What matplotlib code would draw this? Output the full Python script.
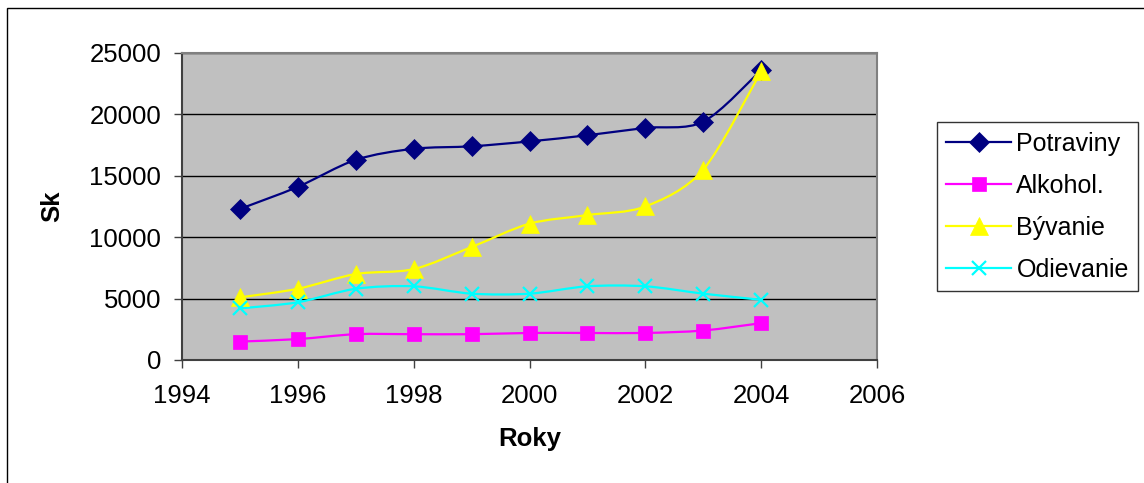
import matplotlib
matplotlib.use("Agg")
import matplotlib.pyplot as plt
from matplotlib.path import Path
from matplotlib.patches import PathPatch, Rectangle
from matplotlib.lines import Line2D
import numpy as np

plt.rcParams['font.family'] = ['Liberation Sans', 'DejaVu Sans']

roky = [1995, 1996, 1997, 1998, 1999, 2000, 2001, 2002, 2003, 2004]
potraviny = [12300, 14100, 16300, 17200, 17400, 17800, 18300, 18900, 19400, 23600]
alkohol = [1500, 1700, 2100, 2100, 2100, 2200, 2200, 2200, 2400, 3000]
byvanie = [5100, 5800, 7000, 7400, 9200, 11100, 11800, 12500, 15500, 23500]
odievanie = [4200, 4700, 5800, 6000, 5400, 5400, 6000, 6000, 5400, 4900]

nazvy = ['Potraviny', 'Alkohol.', 'Bývanie', 'Odievanie']
farby = ['#000080', '#FF00FF', '#FFFF00', '#00FFFF']
znacky = ['D', 's', '^', 'x']
velkosti = [10, 10.5, 12.5, 10]

FS = 18.5


def hladka_cesta(x, y, t=0.15):
    # vyhladena ciara ako v Exceli (Bezier)
    x = np.asarray(x, float)
    y = np.asarray(y, float)
    n = len(x)
    verts = [(x[0], y[0])]
    codes = [Path.MOVETO]
    for i in range(n - 1):
        i0 = max(i - 1, 0)
        i3 = min(i + 2, n - 1)
        c1 = (x[i] + (x[i + 1] - x[i0]) * t, y[i] + (y[i + 1] - y[i0]) * t)
        c2 = (x[i + 1] - (x[i3] - x[i]) * t, y[i + 1] - (y[i3] - y[i]) * t)
        verts += [c1, c2, (x[i + 1], y[i + 1])]
        codes += [Path.CURVE4] * 3
    return Path(verts, codes)


fig = plt.figure(figsize=(11.44, 4.83), dpi=100)
ax = fig.add_axes([0.1591, 0.2547, 0.6075, 0.6356])
ax.set_facecolor('#C0C0C0')

handles = []
for data, meno, farba, zn, ms in zip([potraviny, alkohol, byvanie, odievanie],
                                      nazvy, farby, znacky, velkosti):
    ax.add_patch(PathPatch(hladka_cesta(roky, data), fill=False,
                           edgecolor=farba, lw=1.6, zorder=3))
    mew = 1.6 if zn == 'x' else 0.5
    ax.plot(roky, data, linestyle='none', marker=zn, ms=ms, color=farba,
            mec=farba, mew=mew, zorder=4)
    handles.append(Line2D([], [], color=farba, lw=1.6, marker=zn, ms=ms,
                          mec=farba, mew=mew, label=meno))

ax.set_xlim(1994, 2006)
ax.set_ylim(0, 25000)
ax.set_xticks(range(1994, 2007, 2))
ax.set_yticks(range(0, 25001, 5000))
ax.yaxis.grid(True, color='black', lw=1)
ax.set_axisbelow(True)
ax.tick_params(axis='both', labelsize=FS, length=6, width=1, color='#404040',
               direction='out')
ax.tick_params(axis='y', pad=9)
ax.tick_params(axis='x', pad=11)
ax.spines['left'].set_color('#404040')
ax.spines['bottom'].set_color('#404040')
ax.spines['top'].set_color('#808080')
ax.spines['right'].set_color('#808080')
for s in ax.spines.values():
    s.set_linewidth(1.5)

ax.set_xlabel('Roky', fontsize=FS, fontweight='bold', labelpad=14)
ax.set_ylabel('Sk', fontsize=FS, fontweight='bold', labelpad=18)

leg = fig.legend(handles=handles, loc='upper left',
                 bbox_to_anchor=(0.819, 0.7474), bbox_transform=fig.transFigure,
                 fontsize=18, frameon=True, fancybox=False, borderaxespad=0,
                 handlelength=2.6, handletextpad=0.2, labelspacing=0.72,
                 borderpad=0.38)
leg.get_frame().set_edgecolor('black')
leg.get_frame().set_linewidth(1)

# ramcek grafu
fig.patches.append(Rectangle((7 / 1144, -0.1), 1.2, 1.1 - 8 / 483, fill=False,
                             edgecolor='black', lw=1, transform=fig.transFigure,
                             figure=fig))

fig.savefig('out.png', dpi=100)
